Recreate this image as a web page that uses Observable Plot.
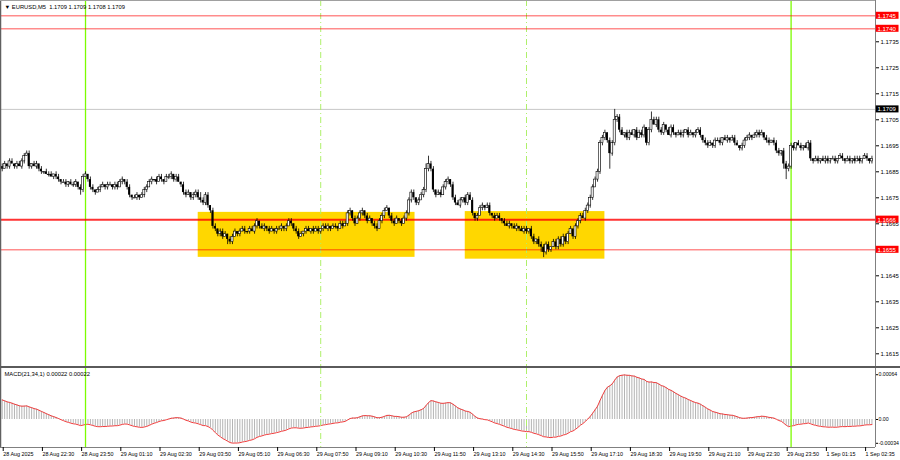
<!DOCTYPE html>
<html><head><meta charset="utf-8">
<script src="https://cdn.jsdelivr.net/npm/d3@7"></script>
<script src="https://cdn.jsdelivr.net/npm/@observablehq/plot@0.6"></script>
<style>
body{margin:0;background:#fff;}
#wrap{width:900px;height:460px;position:relative;overflow:hidden;font-family:"Liberation Sans",Arial,sans-serif;background:#fff;}
#macd{border-top:2px solid #5a5a5a;}
svg{display:block;}
</style></head><body><div id="wrap"><div id="main"></div><div id="macd"></div></div>
<script>
// ---- data ----
const symbol = "EURUSD,M5";
const quote = ["1.1709", "1.1709", "1.1708", "1.1709"];
const pipBase = 1.1650, pip = 0.0001;        // closes are stored in pips above 1.1650
const firstOpenPips = 37;
const closePips = [
36,38,37,39,38,37,38,37,39,41, 42,37,38,37,38,36,35,35,34,34,
33,34,33,32,31,31,30,31,30,30, 31,29,28,33,34,32,29,28,27,28,
29,30,29,30,30,29,30,29,31,32, 31,29,26,25,25,26,25,26,28,29,
31,32,32,31,33,32,31,33,33,34, 32,33,31,30,27,26,27,25,26,27,
25,24,23,26,22,20,14,13,11,12, 10,11,9,8,10,12,11,12,13,12,
12,13,12,14,16,14,13,14,13,12, 13,12,13,13,14,13,14,16,15,13,
12,10,11,12,13,12,13,12,13,12, 13,14,13,14,13,14,14,13,15,14,
15,19,20,17,15,17,19,20,18,16, 17,15,14,13,16,18,20,21,18,16,
15,17,16,15,17,19,24,27,25,23, 24,26,28,36,38,36,28,26,27,26,
29,31,32,30,25,23,22,24,25,23, 26,24,19,17,18,21,22,21,22,19,
18,17,18,17,16,15,14,15,14,13, 14,13,12,13,12,13,10,8,9,7,
6,4,7,5,6,8,6,9,7,10, 8,11,13,10,14,16,18,17,20,22,
25,29,32,35,46,48,50,47,42,46, 55,56,51,49,50,48,50,49,51,48,
50,49,52,46,51,55,53,55,51,50, 53,51,49,52,50,49,50,49,50,51,
49,50,49,50,51,49,47,46,45,46, 45,47,47,46,48,47,48,47,48,46,
45,44,45,47,48,49,48,49,50,49, 50,48,47,46,47,46,43,42,43,38,
36,37,45,44,46,45,44,45,44,46, 40,39,40,39,40,39,40,39,40,40,
39,40,41,40,39,40,39,40,39,40, 39,40,41,40,39,40
];
const wickUp = [
1,1,0,1,1,0,1,1,1,1, 1,1,0,1,1,0,1,0,1,1,
1,0,1,1,0,1,1,0,1,1, 1,0,1,1,1,0,1,1,0,1,
1,1,0,1,1,0,1,1,1,1, 0,1,1,0,1,1,0,1,1,1,
1,1,0,1,1,1,0,1,1,1, 0,1,1,0,1,1,1,0,1,1,
1,2,1,1,1,0,1,1,0,1, 1,1,0,1,1,1,0,1,1,1,
0,1,1,1,1,0,1,1,0,1, 1,0,1,1,1,0,1,1,1,0,
1,1,1,0,1,1,0,1,1,1, 0,1,1,1,0,1,1,0,1,1,
1,1,1,0,1,1,1,1,0,1, 1,0,1,1,1,1,1,1,0,1,
1,1,0,1,1,1,1,1,1,0, 1,1,1,2,3,1,1,0,1,1,
1,1,1,0,1,1,1,1,0,1, 1,1,1,0,1,1,1,0,1,1,
0,1,1,1,0,1,1,1,0,1, 1,0,1,1,1,0,1,1,0,1,
1,1,1,1,0,1,1,1,1,1, 1,1,1,0,1,1,1,1,1,1,
1,1,1,1,1,1,1,0,1,1, 4,1,1,1,0,1,1,1,0,1,
1,1,1,0,1,3,1,1,1,1, 1,0,1,1,1,0,1,1,1,0,
1,1,0,1,1,1,0,1,1,1, 0,1,1,1,0,1,1,0,1,1,
1,0,1,1,1,1,0,1,1,1, 1,0,1,1,0,1,1,1,0,1,
1,1,1,1,0,1,1,0,1,1, 1,0,1,1,0,1,1,1,0,1,
1,0,1,1,0,1,1,0,1,1, 1,0,1,1,0,1
];
const wickDn = [
1,0,1,1,0,1,1,0,1,1, 0,1,1,0,1,1,1,1,0,1,
0,1,1,1,1,0,1,1,0,1, 1,1,2,1,0,1,1,1,1,0,
1,0,1,1,0,1,1,1,0,1, 1,1,1,1,0,1,1,0,1,1,
0,1,1,1,0,1,1,0,1,1, 1,1,0,1,1,1,0,1,1,1,
1,1,1,1,1,1,1,1,1,1, 1,0,2,1,1,0,1,1,0,1,
1,1,0,1,1,1,0,1,1,1, 0,1,1,0,1,1,1,0,1,1,
1,1,0,1,1,0,1,1,0,1, 1,1,0,1,1,0,1,1,0,1,
0,1,1,1,1,0,1,1,1,1, 0,1,1,1,0,1,1,0,1,1,
1,0,1,1,0,1,1,1,1,1, 1,0,1,1,1,1,1,1,0,1,
0,1,1,1,1,1,0,1,1,1, 1,0,1,1,1,0,1,1,0,1,
1,1,0,1,1,1,0,1,1,0, 1,1,0,1,1,1,1,1,1,1,
2,2,1,1,1,0,1,1,1,1, 1,1,0,1,1,1,1,0,1,1,
1,1,0,1,1,1,1,1,6,1, 1,1,1,0,1,1,1,0,1,1,
0,1,1,1,1,1,0,1,1,1, 1,1,0,1,1,1,0,1,1,0,
1,0,1,1,0,1,1,1,1,0, 1,1,0,1,1,0,1,1,0,1,
0,1,1,1,0,1,1,0,1,1, 0,1,1,1,0,1,1,1,1,2,
4,1,1,1,1,0,1,1,0,1, 1,1,0,1,1,0,1,1,1,0,
1,1,0,1,1,0,1,1,1,0, 1,1,0,1,1,1
];
const redLevels = [1.1745, 1.1740];
const keyLevel = 1.16666;
const lowLevel = 1.16550;
const bidPrice = 1.1709;
const boxes = [
  {i1: 80, i2: 168.5, p1: 1.16521, p2: 1.16694},
  {i1: 189, i2: 246, p1: 1.16514, p2: 1.16697}
];
const dayLines = [34, 322];
const sessionLines = [130, 214];
const priceTicks = [1.1615,1.1625,1.1635,1.1645,1.1665,1.1675,1.1685,1.1695,1.1705,1.1715,1.1725,1.1735];
const priceLabels = [
  {p: 1.1745, t: "1.1745", bg: "#ff0000"},
  {p: 1.1740, t: "1.1740", bg: "#ff0000"},
  {p: 1.16666, t: "1.1666", bg: "#ff0000"},
  {p: 1.16550, t: "1.1655", bg: "#ff0000"},
  {p: 1.1709, t: "1.1709", bg: "#000000"}
];
const timeTickBars = [0,16,32,48,64,80,96,112,128,144,160,176,192,208,224,240,256,272,288,304,320,336,352];
const timeLabels = ["28 Aug 2025","28 Aug 22:30","28 Aug 23:50","29 Aug 01:10","29 Aug 02:30","29 Aug 03:50","29 Aug 05:10","29 Aug 06:30","29 Aug 07:50","29 Aug 09:10","29 Aug 10:30","29 Aug 11:50","29 Aug 13:10","29 Aug 14:30","29 Aug 15:50","29 Aug 17:10","29 Aug 18:30","29 Aug 19:50","29 Aug 21:10","29 Aug 22:30","29 Aug 23:50","1 Sep 01:15","1 Sep 02:35"];
const macdFast = 21, macdSlow = 34, macdSignal = 1;
const macdSeedFast = 1.16870, macdSeedSlow = 1.16840;
const macdNow = ["0.00022", "0.00022"];
const macdTicks = [0.00064, 0, -0.00034];

// ---- build ----
const bars = closePips.map((c, i) => {
  const o = i === 0 ? firstOpenPips : closePips[i - 1];
  const hi = Math.max(o, c) + wickUp[i];
  const lo = Math.min(o, c) - wickDn[i];
  return {i, open: pipBase + o * pip, close: pipBase + c * pip, high: pipBase + hi * pip, low: pipBase + lo * pip, bull: c > o, doji: c === o};
});
let ef = macdSeedFast, es = macdSeedSlow;
const af = 2 / (macdFast + 1), as = 2 / (macdSlow + 1);
const macd = bars.map(d => {
  ef += af * (d.close - ef);
  es += as * (d.close - es);
  return {i: d.i, m: ef - es};
});
const labelMap = new Map(timeTickBars.map((b, k) => [b, timeLabels[k]]));

const W = 900, mR = 25, font = "'Liberation Sans', Arial, sans-serif";
const xDom = [-0.7, 356.45];
const xEnd = xDom[1];
const bw = 0.42;

const main = Plot.plot({
  width: W, height: 366, marginLeft: 0, marginRight: mR, marginTop: 0, marginBottom: 0,
  x: {domain: xDom, axis: null, label: null},
  y: {domain: [1.161012, 1.175088], axis: null, label: null},
  style: {background: "#fff", fontFamily: font, overflow: "visible"},
  marks: [
    Plot.rect(boxes, {x1: "i1", x2: "i2", y1: "p1", y2: "p2", fill: "#ffd700"}),
    Plot.ruleY([bidPrice], {stroke: "#c8c8c8"}),
    Plot.ruleX(dayLines, {stroke: "#7cfc00", strokeWidth: 1.3}),
    Plot.ruleX(sessionLines, {stroke: "#aef06a", strokeWidth: 1, strokeDasharray: "6,3,1,3"}),
    Plot.ruleY(redLevels, {stroke: "#ff0000", strokeOpacity: 0.45, strokeWidth: 1.5}),
    Plot.ruleY([lowLevel], {stroke: "#ff0000", strokeOpacity: 0.45, strokeWidth: 1.5}),
    Plot.ruleY([keyLevel], {stroke: "#ff0000", strokeOpacity: 0.8, strokeWidth: 2}),
    Plot.ruleX(bars, {x: "i", y1: "low", y2: "high", stroke: "#000", strokeWidth: 0.8}),
    Plot.rect(bars.filter(d => !d.bull && !d.doji), {x1: d => d.i - bw, x2: d => d.i + bw, y1: "open", y2: "close", fill: "#000"}),
    Plot.rect(bars.filter(d => d.bull), {x1: d => d.i - bw, x2: d => d.i + bw, y1: "open", y2: "close", fill: "#fff", stroke: "#000", strokeWidth: 0.6}),
    Plot.ruleY(bars.filter(d => d.doji), {y: "close", x1: d => d.i - 0.6, x2: d => d.i + 0.6, stroke: "#000"}),
    Plot.ruleX([xEnd], {stroke: "#808080"}),
    Plot.ruleX([xDom[0]], {stroke: "#606060", strokeWidth: 1.5}),
    Plot.ruleY([1.175088], {stroke: "#a0a0a0"}),
    Plot.axisY({anchor: "right", ticks: priceTicks, tickSize: 3, tickPadding: 2, fontSize: 6, label: null, tickFormat: d3.format(".4f")}),
    Plot.rect(priceLabels, {x1: xEnd + 0.3, x2: xEnd + 9.6, y1: d => d.p - 0.000135, y2: d => d.p + 0.000135, fill: "bg"}),
    Plot.text(priceLabels, {x: xEnd + 0.8, y: "p", text: "t", fill: "#fff", textAnchor: "start", fontSize: 6}),
    Plot.text([`\u25BC ${symbol}  ${quote.join(" ")}`], {frameAnchor: "top-left", dx: 4, dy: 4, fontSize: 5.8, textAnchor: "start", lineAnchor: "top", fill: "#000"})
  ]
});
document.getElementById("main").appendChild(main);

const macdPlot = Plot.plot({
  width: W, height: 92, marginLeft: 0, marginRight: mR, marginTop: 0, marginBottom: 13,
  x: {domain: xDom, axis: null, label: null},
  y: {domain: [-0.0004, 0.000729], axis: null, label: null},
  style: {background: "#fff", fontFamily: font, overflow: "visible"},
  marks: [
    Plot.ruleX(macd, {x: "i", y1: 0, y2: "m", stroke: "#b4b4b4", strokeWidth: 1}),
    Plot.line(macd, {x: "i", y: "m", stroke: "#f03c3c", strokeWidth: 1}),
    Plot.ruleX(dayLines, {stroke: "#7cfc00", strokeWidth: 1.3}),
    Plot.ruleX(sessionLines, {stroke: "#aef06a", strokeWidth: 1, strokeDasharray: "6,3,1,3"}),
    Plot.ruleX([xEnd], {stroke: "#808080"}),
    Plot.ruleX([xDom[0]], {stroke: "#606060", strokeWidth: 1.5}),
    Plot.ruleY([-0.0004], {stroke: "#808080"}),
    Plot.axisY({anchor: "right", ticks: macdTicks, tickSize: 2, tickPadding: 1, fontSize: 5.2, label: null, tickFormat: d => d === 0 ? "0.00" : d.toFixed(5)}),
    Plot.axisX({anchor: "bottom", ticks: timeTickBars, tickFormat: d => labelMap.get(d), tickSize: 4, tickPadding: 1, textAnchor: "start", dx: 1, fontSize: 5.4, label: null}),
    Plot.text([`MACD(${macdFast},${macdSlow},${macdSignal}) ${macdNow.join(" ")}`], {frameAnchor: "top-left", dx: 4, dy: 3, fontSize: 5.8, textAnchor: "start", lineAnchor: "top", fill: "#000"})
  ]
});
document.getElementById("macd").appendChild(macdPlot);
</script></body></html>
